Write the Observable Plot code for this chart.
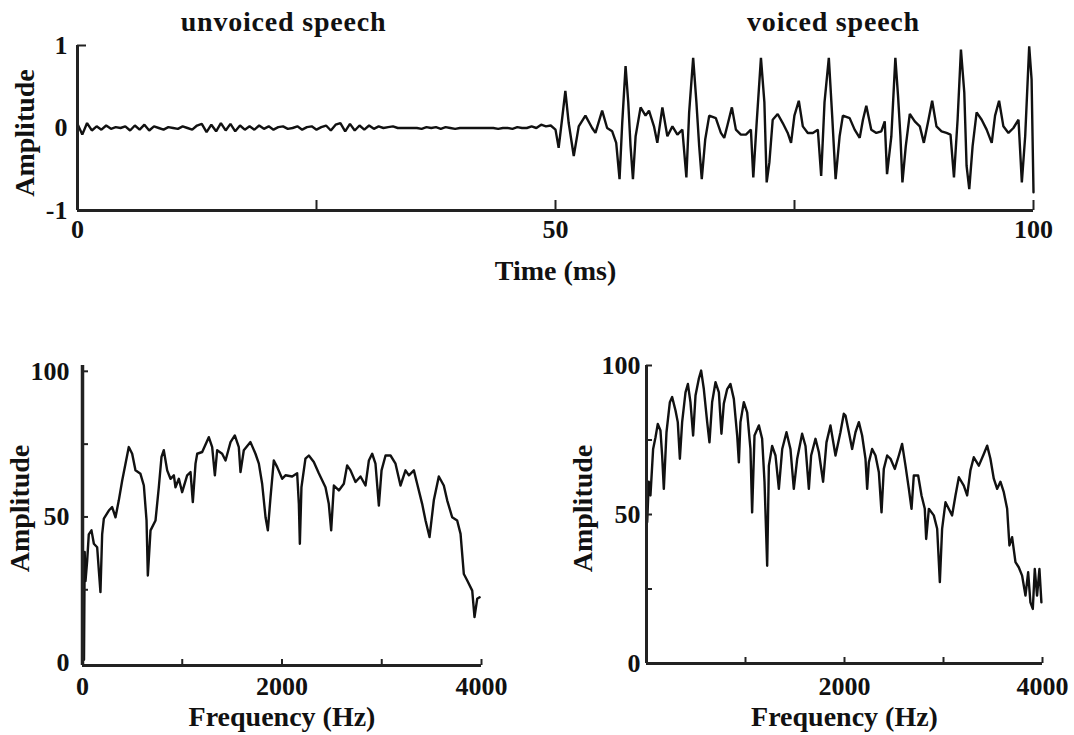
<!DOCTYPE html>
<html><head><meta charset="utf-8">
<script src="https://cdn.jsdelivr.net/npm/d3@7"></script>
<script src="https://cdn.jsdelivr.net/npm/@observablehq/plot@0.6"></script>
<style>
body{margin:0;background:#fff;}
#wrap{position:relative;width:1074px;height:735px;overflow:hidden;}
#wrap svg{position:absolute;}
</style></head><body><div id="wrap"></div>
<script>
// ---------- data ----------
const titles = ["unvoiced speech", "voiced speech"];
const timeLabel = "Time (ms)";
const freqLabel = "Frequency (Hz)";
const ampLabel = "Amplitude";

// unvoiced segment sampled every 0.5 ms from 0 to 50 ms
const unvoicedStep = 0.5;
const unvoicedAmp = [0.05,-0.08,0.06,-0.03,0.02,-0.02,0.03,-0.01,0.01,0.0,0.02,-0.03,0.03,-0.02,0.04,-0.03,0.02,0.0,-0.02,0.01,
  0.0,-0.01,0.02,0.0,-0.02,0.03,0.05,-0.05,0.04,-0.04,0.06,-0.03,0.05,-0.04,0.03,-0.02,0.02,-0.02,0.03,-0.01,
  0.02,-0.02,0.01,0.02,-0.01,0.0,0.02,-0.02,0.01,0.02,-0.02,0.01,0.03,-0.03,0.04,0.06,-0.04,0.05,-0.03,0.03,
  -0.02,0.03,-0.01,0.02,0.0,0.01,0.02,0.0,0.0,0.0,0.0,0.0,-0.01,0.01,0.0,0.01,-0.01,0.01,0.0,-0.01,
  0.0,0.0,0.0,0.0,0.0,0.0,0.0,0.0,-0.01,0.0,0.0,-0.01,0.01,0.0,0.0,0.02,0.0,0.04,0.02,0.03,-0.02];

const voicedTime = [50.33,50.68,51.03,51.38,51.91,52.43,53.13,53.83,54.18,54.88,55.40,55.93,56.35,56.70,56.98,57.33,57.61,57.85,58.10,58.38,
  58.90,59.42,59.78,60.30,60.65,61.18,61.70,62.23,62.75,63.27,63.69,63.98,64.40,64.74,65.03,65.30,65.66,66.08,66.77,67.30,
  67.65,68.00,68.45,68.87,69.39,69.92,70.44,70.69,71.04,71.49,71.85,72.09,72.37,72.72,73.24,73.77,74.29,74.64,74.99,75.45,
  75.87,76.39,76.92,77.44,77.79,78.14,78.59,78.94,79.30,79.72,80.06,80.77,81.29,81.82,82.16,82.51,83.03,83.56,84.08,84.44,
  84.68,85.13,85.55,85.83,86.08,86.29,86.64,87.06,87.58,88.11,88.53,88.98,89.40,89.85,90.38,90.90,91.32,91.68,92.06,92.41,
  92.76,93.00,93.28,93.63,94.05,94.58,95.10,95.63,95.98,96.40,96.85,97.38,97.90,98.43,98.78,99.13,99.55,99.80,99.90,100.00];
const voicedAmp = [-0.24,0.10,0.45,0.06,-0.34,0.02,0.15,0.00,-0.06,0.21,0.00,-0.04,-0.18,-0.62,0.06,0.75,0.31,-0.22,-0.62,-0.10,
  0.25,0.15,0.21,0.02,-0.18,0.25,-0.10,0.02,-0.08,-0.02,-0.60,0.19,0.85,0.31,-0.22,-0.62,-0.14,0.15,0.12,-0.06,
  -0.12,0.04,0.25,-0.02,-0.08,-0.08,-0.02,-0.60,0.06,0.85,0.31,-0.66,-0.42,0.10,0.17,0.06,-0.06,-0.18,0.15,0.33,
  0.02,-0.06,-0.06,-0.02,-0.58,0.31,0.85,0.15,-0.62,-0.10,0.15,0.12,-0.02,-0.12,0.10,0.27,-0.02,-0.06,-0.04,0.08,
  -0.56,-0.10,0.85,0.39,-0.10,-0.66,-0.22,0.17,0.08,0.02,-0.18,0.08,0.33,0.02,-0.04,-0.06,-0.08,-0.60,0.10,0.95,
  0.43,-0.46,-0.74,-0.22,0.19,0.10,-0.02,-0.18,0.15,0.33,0.02,-0.06,0.00,0.10,-0.66,-0.10,0.99,0.59,-0.10,-0.78];

const unvoicedFreq = [0,8,15,22,30,47,63,90,114,147,164,180,197,214,264,297,331,364,398,431,
  464,498,531,581,615,642,655,682,732,765,792,815,849,882,916,932,966,999,1049,1083,
  1106,1133,1150,1200,1266,1300,1327,1350,1400,1434,1484,1527,1567,1584,1617,1684,1734,1768,1801,1835,
  1858,1885,1918,1952,2002,2035,2102,2152,2169,2179,2195,2235,2269,2319,2369,2436,2469,2493,2520,2570,
  2620,2653,2687,2737,2787,2837,2871,2904,2937,2971,2998,3038,3088,3138,3188,3238,3272,3322,3355,3405,
  3439,3479,3522,3572,3622,3656,3706,3756,3790,3823,3857,3907,3930,3957,3981];
const unvoicedSpec = [2,30,1,38,28,35,44,45.4,40.8,39.6,31.6,24.2,44,49.4,52.2,53.4,49.9,55.7,62.5,68.3,
  74,71.7,66,64.8,60.8,48.8,29.9,45.4,48.8,60.2,70.6,72.9,66,63.1,64.3,60.2,63.1,58.5,64.3,65.4,
  55.1,68.3,71.7,72.3,77.4,74,64.3,72.9,71.7,69.4,75.7,78,74,65.4,72.9,75.7,71.7,68.3,61.4,49.9,
  45.4,56.8,69.4,67.1,63.1,64.3,63.9,65,54.5,40.8,60.2,70,71.1,68.9,65,60.2,54.5,45.4,60.8,59.1,
  61.4,67.7,66,62,63.9,60.8,69.4,71.7,68.3,53.9,66,71.1,71.1,68.3,60.8,66,64.3,66,61.4,54.5,
  48.8,43.1,55.7,63.9,60.8,55.7,49.9,48.8,44.2,30.4,28.2,24.7,15.6,21.9,22.4];

const voicedFreq = [0,7,23,40,67,91,114,141,158,175,202,236,259,293,316,337,360,394,418,444,
  471,495,528,552,579,613,636,663,697,731,757,781,815,848,882,916,933,949,983,1017,
  1050,1067,1091,1135,1168,1192,1219,1236,1269,1303,1337,1371,1414,1454,1488,1522,1572,1606,1640,1663,
  1707,1741,1784,1818,1858,1909,1959,1993,2010,2044,2077,2111,2145,2178,2212,2229,2246,2279,2313,2347,
  2374,2397,2431,2465,2508,2549,2582,2616,2650,2677,2700,2744,2778,2811,2825,2852,2902,2936,2963,2986,
  3020,3053,3087,3121,3155,3205,3239,3272,3306,3357,3407,3441,3474,3508,3542,3575,3609,3643,3666,3693,
  3727,3760,3794,3828,3855,3878,3902,3922,3945,3969,3989];
const voicedSpec = [56.4,47.4,61,56.4,72,75.9,80.4,78.2,69.8,58.6,77.6,87.7,89.4,84.9,81,68.7,81,91,93.8,87.7,
  76.5,89.9,95.5,98.3,92.1,81,74.2,87.7,94.4,91,77.1,87.2,92.1,93.8,88.8,76.5,67.5,81,87.7,84.3,
  72,50.7,76.5,79.9,75.4,61,32.8,66.4,73,69.8,58.6,72,77.6,72,58.6,68.7,77.1,73,58.6,69.8,
  75.4,70.9,61,74.2,79.9,69.8,77.6,83.8,83.2,77.6,72,77.6,81,76.5,68.7,58.6,67.5,72,69.8,64.2,
  50.7,65.3,69.8,68.7,65.3,69.8,73.7,66.4,58.6,51.9,63.1,63.1,56.4,51.9,41.8,51.9,49.7,45.2,27.3,45.2,
  54.1,51.9,49.7,56.4,62.5,59.7,56.4,64.8,69.2,66.4,70.3,73.1,68.7,62,58.6,61,57.5,51.9,39.6,42.4,
  34,32.3,29.5,22.8,30.6,20.5,18.3,31.7,22.8,31.7,20.5];

const timeTickLabels = [0, 50, 100];
const timeTicks = [25, 50, 75, 100];
const waveTickLabels = [-1, 0, 1];
const waveTicks = [1];
const freqTickLabelsLeft = [0, 2000, 4000];
const freqTickLabelsRight = [2000, 4000];
const freqTicks = [1000, 2000, 3000, 4000];
const specTickLabels = [0, 50, 100];
const specTicks = [25, 50, 75, 100];

// ---------- build tables ----------
const wave = unvoicedAmp.map((a, i) => ({t: i * unvoicedStep, a}))
  .concat(voicedTime.map((t, i) => ({t, a: voicedAmp[i]})));
const specU = unvoicedFreq.map((f, i) => ({f, a: unvoicedSpec[i]}));
const specV = voicedFreq.map((f, i) => ({f, a: voicedSpec[i]}));

const FONT = "'Liberation Serif', 'Times New Roman', serif";
const INK = "#111";
const AX = "#222";
const tickTxt = {fontFamily: FONT, fontSize: 26, fontWeight: "bold", fill: INK};
const labTxt = {fontFamily: FONT, fontSize: 28, fontWeight: "bold", fill: INK, textAnchor: "middle", lineAnchor: "middle"};
const titleTxt = {fontFamily: FONT, fontSize: 28, fontWeight: "bold", fill: INK, textAnchor: "middle", lineAnchor: "middle"};
const baseStyle = {fontFamily: FONT, fontSize: "26px", fontWeight: "bold", color: INK, background: "transparent", overflow: "visible"};
const fmt = d => String(d);

const wrap = document.getElementById("wrap");
function place(svg, left, top) { svg.style.left = left + "px"; svg.style.top = top + "px"; wrap.appendChild(svg); }

// ---------- top: waveform ----------
{
  const W = 1074, H = 290, mL = 77, mR = 41, mT = 45, mB = 80;
  const iw = W - mL - mR, ih = H - mT - mB;
  const p = Plot.plot({
    width: W, height: H, marginLeft: mL, marginRight: mR, marginTop: mT, marginBottom: mB,
    style: baseStyle,
    x: {domain: [0, 100]},
    y: {domain: [-1, 1]},
    marks: [
      Plot.line(wave, {x: "t", y: "a", stroke: INK, strokeWidth: 2.4, strokeLinejoin: "miter"}),
      Plot.ruleX([0], {stroke: AX, strokeWidth: 3}),
      Plot.ruleY([-1], {stroke: AX, strokeWidth: 3}),
      Plot.tickX(timeTicks, {x: d => d, insetTop: ih - 10, stroke: AX, strokeWidth: 2}),
      Plot.tickY(waveTicks, {y: d => d, insetRight: iw - 9, stroke: AX, strokeWidth: 2}),
      Plot.axisX(timeTickLabels, {tickSize: 0, tickPadding: 9, label: null, tickFormat: fmt, ...tickTxt}),
      Plot.axisY(waveTickLabels, {tickSize: 0, tickPadding: 10, label: null, tickFormat: fmt, ...tickTxt}),
      Plot.text([titles[0]], {frameAnchor: "top-left", dx: 206, dy: -23, ...titleTxt}),
      Plot.text([titles[1]], {frameAnchor: "top-left", dx: 756, dy: -23, ...titleTxt}),
      Plot.text([timeLabel], {frameAnchor: "bottom", dy: 61, ...labTxt}),
      Plot.text([ampLabel], {frameAnchor: "left", rotate: -90, dx: -52, dy: 5, ...labTxt})
    ]
  });
  d3.select(p).selectAll("text").filter(function() { return titles.includes(this.textContent); })
    .attr("letter-spacing", "0.8px");
  place(p, 0, 0);
}

// ---------- bottom left: unvoiced spectrum ----------
{
  const W = 530, H = 435, mL = 82, mR = 49, mT = 65, mB = 70;
  const iw = W - mL - mR, ih = H - mT - mB;
  const p = Plot.plot({
    width: W, height: H, marginLeft: mL, marginRight: mR, marginTop: mT, marginBottom: mB,
    style: baseStyle,
    x: {domain: [0, 4000]},
    y: {domain: [-1, 102]},
    marks: [
      Plot.line(specU, {x: "f", y: "a", stroke: INK, strokeWidth: 2.4}),
      Plot.ruleX([0], {stroke: AX, strokeWidth: 3.5}),
      Plot.ruleY([-1], {stroke: AX, strokeWidth: 3}),
      Plot.tickX(freqTicks, {x: d => d, insetTop: ih - 6, stroke: AX, strokeWidth: 2}),
      Plot.tickY(specTicks, {y: d => d, insetRight: iw - 6, stroke: AX, strokeWidth: 2}),
      Plot.axisX(freqTickLabelsLeft, {tickSize: 0, tickPadding: 11, label: null, tickFormat: fmt, ...tickTxt}),
      Plot.axisY(specTickLabels, {tickSize: 0, tickPadding: 13, label: null, tickFormat: fmt, ...tickTxt}),
      Plot.text([freqLabel], {frameAnchor: "bottom", dy: 52, ...labTxt}),
      Plot.text([ampLabel], {frameAnchor: "left", rotate: -90, dx: -62, dy: -7, ...labTxt})
    ]
  });
  place(p, 0, 300);
}

// ---------- bottom right: voiced spectrum ----------
{
  const W = 537, H = 435, mL = 109, mR = 32, mT = 65, mB = 72;
  const iw = W - mL - mR, ih = H - mT - mB;
  const p = Plot.plot({
    width: W, height: H, marginLeft: mL, marginRight: mR, marginTop: mT, marginBottom: mB,
    style: baseStyle,
    x: {domain: [0, 4000]},
    y: {domain: [0, 100]},
    marks: [
      Plot.line(specV, {x: "f", y: "a", stroke: INK, strokeWidth: 2.4}),
      Plot.ruleX([0], {stroke: AX, strokeWidth: 3}),
      Plot.ruleY([0], {stroke: AX, strokeWidth: 3}),
      Plot.tickX(freqTicks, {x: d => d, insetTop: ih - 6, stroke: AX, strokeWidth: 2}),
      Plot.tickY(specTicks, {y: d => d, insetRight: iw - 6, stroke: AX, strokeWidth: 2}),
      Plot.axisX(freqTickLabelsRight, {tickSize: 0, tickPadding: 13, label: null, tickFormat: fmt, ...tickTxt}),
      Plot.axisY(specTickLabels, {tickSize: 0, tickPadding: 6, label: null, tickFormat: fmt, ...tickTxt}),
      Plot.text([freqLabel], {frameAnchor: "bottom", dy: 54, ...labTxt}),
      Plot.text([ampLabel], {frameAnchor: "left", rotate: -90, dx: -63, dy: -6, ...labTxt})
    ]
  });
  place(p, 537, 300);
}
</script></body></html>
